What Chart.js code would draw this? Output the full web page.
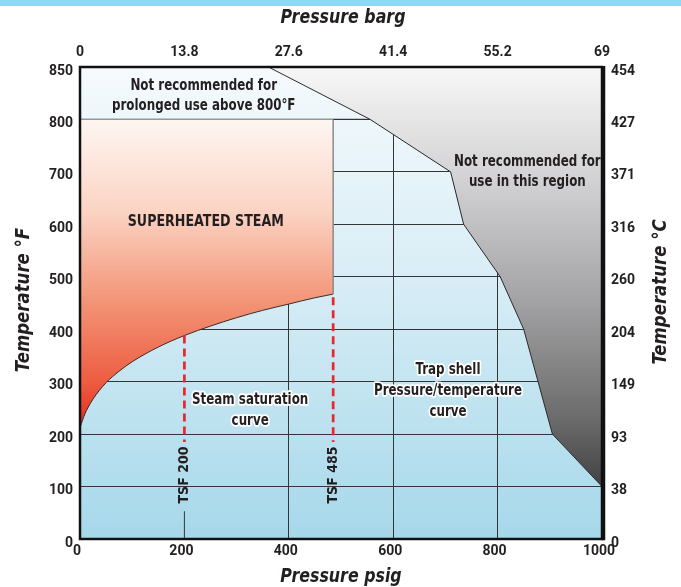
<!DOCTYPE html>
<html><head><meta charset="utf-8">
<script src="https://cdn.jsdelivr.net/npm/chart.js@4.4.1/dist/chart.umd.min.js"></script>
<style>html,body{margin:0;padding:0;background:#fff;}#wrap{width:681px;height:587px;}</style>
</head><body><div id="wrap"><canvas id="c" width="681" height="587"></canvas></div>
<script>
// ---- data ----
const PSIG_TICKS = [0, 200, 400, 600, 800, 1000];
const PSIG_LABELS = ['0', '200', '400', '600', '800', '1000'];
const BARG_LABELS = ['0', '13.8', '27.6', '41.4', '55.2', '69'];
const TEMP_F_TICKS = [0, 100, 200, 300, 400, 500, 600, 700, 800, 900];
const TEMP_F_LABELS = ['0', '100', '200', '300', '400', '500', '600', '700', '800', '850'];
const TEMP_C_LABELS = ['0', '38', '93', '149', '204', '260', '316', '371', '427', '454'];

// steam saturation curve (psig, °F)
const SAT_PSIG = [0, 5, 10, 15, 25, 50, 75, 100, 150, 200, 250, 300, 350, 400, 450, 485];
const SAT_TEMP = [212, 227, 240, 250, 267, 298, 320, 338, 366, 388, 406, 422, 436, 448, 460, 467];

// trap shell pressure/temperature limit (psig, °F)
const TRAP_PSIG = [361, 556, 710, 735, 805, 850, 905, 1000, 1000];
const TRAP_TEMP = [900, 800, 700, 600, 500, 400, 200, 100, 0];

const PROLONGED_LIMIT_F = 800;
const TSF_MODELS = [200, 485];
const TSF_DASH_BOTTOM_F = 185;
const TSF_STUB_TOP_F = 53;

// ---- styling ----
const FONT = '"Liberation Sans Narrow", "Arial Narrow", "DejaVu Sans Condensed", sans-serif';
const TICK_FAMILY = 'Roboto, "DejaVu Sans Condensed", sans-serif';
const INK = '#231f20';
const GRID = '#353535';
const BLUE_STOPS = [[0, '#f5fafd'], [0.45, '#d8edf6'], [1, '#a6d8ea']];
const RED_STOPS = [[0, '#fef6f2'], [0.3, '#fbd3c3'], [0.6, '#f39274'], [0.85, '#ed5d42'], [1, '#e3291b']];
const GRAY_STOPS = [[0, '#f7f7f7'], [0.25, '#d0d0d2'], [0.5, '#a2a2a4'], [0.75, '#6a6a6a'], [1, '#222222']];

function makeGrad(chart, v0, v1, stops) {
  const y = chart.scales && chart.scales.y;
  if (!y || !chart.chartArea) return 'rgba(0,0,0,0)';
  const g = chart.ctx.createLinearGradient(0, y.getPixelForValue(v0), 0, y.getPixelForValue(v1));
  stops.forEach(s => g.addColorStop(s[0], s[1]));
  return g;
}
const pts = (xs, ys) => xs.map((x, i) => ({x, y: ys[i]}));

const ANNOTATIONS = [
  {lines: ['Not recommended for', 'prolonged use above 800°F'], x: 237, y: [864, 826], halo: false, size: 15},
  {lines: ['Not recommended for', 'use in this region'], x: 857, y: [719, 681], halo: false, size: 15},
  {lines: ['SUPERHEATED STEAM'], x: 241, y: [604], halo: false, size: 16},
  {lines: ['Steam saturation', 'curve'], x: 326, y: [265, 225], halo: true, size: 15},
  {lines: ['Trap shell', 'Pressure/temperature', 'curve'], x: 705, y: [322, 282, 242], halo: true, size: 15}
];
const TSF_LABEL_F = 122;

const tickFont = {family: TICK_FAMILY, size: 14, weight: 'bold'};

function squeezeText(ctx, t, x, y, sx, rot, halo) {
  ctx.save();
  ctx.translate(x, y);
  if (rot) ctx.rotate(rot);
  ctx.scale(sx, 1);
  if (halo) {
    ctx.strokeStyle = '#ffffff';
    ctx.lineWidth = 3.5;
    ctx.lineJoin = 'round';
    ctx.strokeText(t, 0, 0);
  }
  ctx.fillStyle = INK;
  ctx.fillText(t, 0, 0);
  ctx.restore();
}

const deco = {
  id: 'deco',
  beforeDraw(chart) {
    const {ctx, chartArea: a} = chart;
    ctx.save();
    ctx.fillStyle = '#ffffff';
    ctx.fillRect(0, 0, chart.width, chart.height);
    ctx.fillStyle = '#8fd8f6';
    ctx.fillRect(0, 0, chart.width, 6);
    ctx.fillStyle = makeGrad(chart, 900, 0, BLUE_STOPS);
    ctx.fillRect(a.left, a.top, a.right - a.left, a.bottom - a.top);
    ctx.restore();
  },
  afterDatasetsDraw(chart) {
    const {ctx, chartArea: a, scales} = chart;
    ctx.save();
    // frame
    ctx.strokeStyle = '#111';
    ctx.lineWidth = 2.5;
    ctx.strokeRect(a.left, a.top, a.right - a.left, a.bottom - a.top);
    ctx.lineWidth = 3.5;
    ctx.beginPath(); ctx.moveTo(a.right + 1.5, a.top - 1); ctx.lineTo(a.right + 1.5, a.bottom + 1.2); ctx.stroke();
    // annotations
    ctx.textAlign = 'center';
    ctx.textBaseline = 'middle';
    ANNOTATIONS.forEach(n => {
      ctx.font = 'bold ' + n.size + 'px ' + FONT;
      const px = scales.x.getPixelForValue(n.x);
      n.lines.forEach((t, i) => {
        const py = scales.y.getPixelForValue(n.y[i]);
        squeezeText(ctx, t, px, py, 0.88, 0, n.halo);
      });
    });
    // TSF labels
    ctx.font = 'bold 14px ' + FONT;
    TSF_MODELS.forEach(m => {
      const px = scales.x.getPixelForValue(m);
      const py = scales.y.getPixelForValue(TSF_LABEL_F);
      squeezeText(ctx, 'TSF ' + m, px, py, 1, -Math.PI / 2, false);
    });
    ctx.restore();
  },
  afterDraw(chart) {
    const {ctx} = chart;
    ctx.save();
    ctx.textAlign = 'center';
    ctx.textBaseline = 'middle';
    ctx.font = 'italic bold 20px ' + FONT;
    squeezeText(ctx, 'Pressure barg', 343, 18, 0.88, 0, false);
    squeezeText(ctx, 'Pressure psig', 341, 577, 0.88, 0, false);
    squeezeText(ctx, 'Temperature °F', 24, 300, 0.92, -Math.PI / 2, false);
    squeezeText(ctx, 'Temperature °C', 661, 292, 0.92, -Math.PI / 2, false);
    ctx.restore();
  }
};

function setTicks(values) { return s => { s.ticks = values.map(v => ({value: v})); }; }

new Chart(document.getElementById('c'), {
  type: 'line',
  data: {
    datasets: [
      { // red dashed TSF 200
        label: 'TSF 200', data: pts([TSF_MODELS[0], TSF_MODELS[0]], [SAT_TEMP[SAT_PSIG.indexOf(200)], TSF_DASH_BOTTOM_F]),
        borderColor: '#e8262d', borderWidth: 2.7, borderDash: [8, 5], fill: false, order: 1
      },
      { // red dashed TSF 485
        label: 'TSF 485', data: pts([TSF_MODELS[1], TSF_MODELS[1]], [SAT_TEMP[SAT_TEMP.length - 1] - 6, TSF_DASH_BOTTOM_F]),
        borderColor: '#e8262d', borderWidth: 2.7, borderDash: [8, 5], fill: false, order: 1
      },
      { // short grid stub under TSF 200 label
        label: 'stub', data: pts([TSF_MODELS[0], TSF_MODELS[0]], [0, TSF_STUB_TOP_F]),
        borderColor: GRID, borderWidth: 1, fill: false, order: 1
      },
      { // trap shell limit (not recommended region)
        label: 'Trap shell', data: pts(TRAP_PSIG, TRAP_TEMP),
        borderColor: '#2a2a2a', borderWidth: 1, fill: 'end',
        backgroundColor: c => makeGrad(c.chart, 900, 0, GRAY_STOPS), order: 2
      },
      { // superheated edge at 485
        label: 'edge', data: pts([SAT_PSIG[SAT_PSIG.length - 1], SAT_PSIG[SAT_PSIG.length - 1]], [SAT_TEMP[SAT_TEMP.length - 1], PROLONGED_LIMIT_F]),
        borderColor: '#8a8a8a', borderWidth: 1.5, fill: false, order: 3
      },
      { // steam saturation curve / superheated region
        label: 'Saturation', data: pts(SAT_PSIG, SAT_TEMP),
        borderColor: '#3a2a28', borderWidth: 1, cubicInterpolationMode: 'monotone',
        fill: {value: PROLONGED_LIMIT_F},
        backgroundColor: c => makeGrad(c.chart, PROLONGED_LIMIT_F, 212, RED_STOPS), order: 4
      },
      { // prolonged-use region above 800°F
        label: '800F', data: pts([0, 1000], [PROLONGED_LIMIT_F, PROLONGED_LIMIT_F]),
        borderColor: GRID, borderWidth: 1.2, fill: 'end',
        backgroundColor: c => makeGrad(c.chart, 900, 0, BLUE_STOPS), order: 5
      }
    ]
  },
  options: {
    responsive: false,
    animation: false,
    events: [],
    layout: {padding: 0},
    elements: {point: {radius: 0}, line: {tension: 0}},
    plugins: {legend: {display: false}, tooltip: {enabled: false}, title: {display: false}},
    scales: {
      x: {
        type: 'linear', position: 'bottom', min: 0, max: 1000,
        afterBuildTicks: setTicks(PSIG_TICKS),
        afterFit: s => { s.height = 48; },
        ticks: {font: tickFont, color: INK, padding: 4, labelOffset: -3, maxRotation: 0, autoSkip: false,
          callback: (v) => PSIG_LABELS[PSIG_TICKS.indexOf(v)]},
        grid: {drawTicks: false, lineWidth: 1,
          color: c => (c.tick && (c.tick.value === 200 || c.tick.value === 0 || c.tick.value === 1000)) ? 'rgba(0,0,0,0)' : GRID},
        border: {display: false}
      },
      x2: {
        type: 'linear', position: 'top', min: 0, max: 1000,
        afterBuildTicks: setTicks(PSIG_TICKS),
        afterFit: s => { s.height = 67; },
        ticks: {font: tickFont, color: INK, padding: 6, maxRotation: 0, autoSkip: false,
          callback: (v) => BARG_LABELS[PSIG_TICKS.indexOf(v)]},
        grid: {display: false, drawTicks: false},
        border: {display: false}
      },
      y: {
        type: 'linear', position: 'left', min: 0, max: 900,
        afterBuildTicks: setTicks(TEMP_F_TICKS),
        afterFit: s => { s.width = 80; },
        ticks: {font: tickFont, color: INK, padding: 7, labelOffset: 4, autoSkip: false,
          callback: (v) => TEMP_F_LABELS[TEMP_F_TICKS.indexOf(v)]},
        grid: {drawTicks: false, lineWidth: 1,
          color: c => (c.tick && (c.tick.value === 0 || c.tick.value === 900)) ? 'rgba(0,0,0,0)' : GRID},
        border: {display: false}
      },
      y2: {
        type: 'linear', position: 'right', min: 0, max: 900,
        afterBuildTicks: setTicks(TEMP_F_TICKS),
        afterFit: s => { s.width = 79; },
        ticks: {font: tickFont, color: INK, padding: 9, labelOffset: 4, autoSkip: false,
          callback: (v) => TEMP_C_LABELS[TEMP_F_TICKS.indexOf(v)]},
        grid: {display: false, drawTicks: false},
        border: {display: false}
      }
    }
  },
  plugins: [deco]
});
</script>
</body></html>
